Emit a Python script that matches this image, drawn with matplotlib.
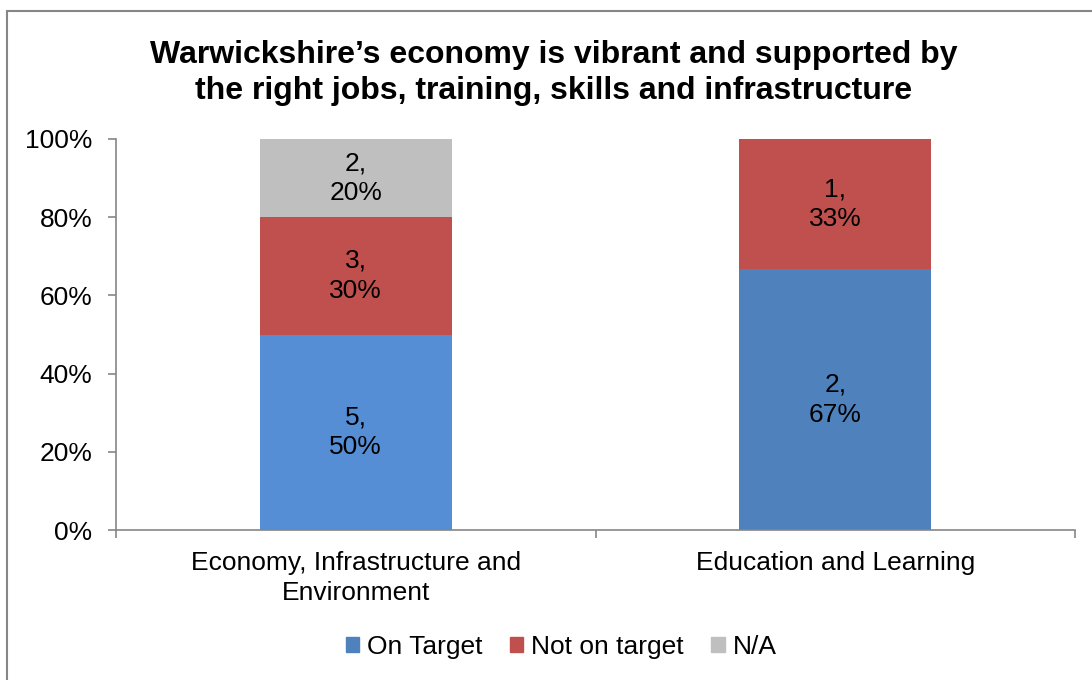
import matplotlib.pyplot as plt
import numpy as np
from matplotlib.patches import Rectangle

plt.rcParams['font.family'] = ['Liberation Sans', 'DejaVu Sans']

# counts per category
categories = ['Economy, Infrastructure and\nEnvironment', 'Education and Learning']
on_target = [5, 2]
not_on_target = [3, 1]
n_a = [2, 0]
series_names = ['On Target', 'Not on target', 'N/A']

counts = np.array([on_target, not_on_target, n_a], dtype=float)
totals = counts.sum(axis=0)
shares = counts / totals

bar_colors = [['#558ED5', '#4F81BD'], ['#C0504D', '#C0504D'], ['#BFBFBF', '#BFBFBF']]
legend_colors = ['#4F81BD', '#C0504D', '#BFBFBF']
axis_grey = '#868686'
fs = 19

fig = plt.figure(figsize=(10.92, 6.80), dpi=100)
ax = fig.add_axes([116/1092, 1-530/680, (1075-116)/1092, (530-139)/680])

x = np.arange(len(categories))
bottom = np.zeros(len(categories))
for i, name in enumerate(series_names):
    ax.bar(x, shares[i], 0.4, bottom=bottom, color=bar_colors[i], label=name)
    for j in range(len(categories)):
        if counts[i, j] > 0:
            ax.text(x[j], bottom[j] + shares[i, j]/2, '%d,\n%d%%' % (counts[i, j], round(shares[i, j]*100)),
                    ha='center', va='center', fontsize=fs, linespacing=1.32)
    bottom += shares[i]

ax.set_xlim(-0.5, 1.5)
ax.set_ylim(0, 1)
ax.set_yticks(np.arange(0, 1.01, 0.2))
ax.set_yticklabels(['%d%%' % v for v in range(0, 101, 20)], fontsize=fs)
ax.set_xticks(x)
ax.set_xticklabels(categories, fontsize=fs, linespacing=1.3)
ax.set_xticks([-0.5, 0.5, 1.5], minor=True)
ax.tick_params(axis='x', which='major', length=0, pad=15)
ax.tick_params(axis='x', which='minor', length=6, color=axis_grey, width=1.2)
ax.tick_params(axis='y', length=6, color=axis_grey, width=1.2, pad=11)
for s in ['top', 'right']:
    ax.spines[s].set_visible(False)
for s in ['left', 'bottom']:
    ax.spines[s].set_color(axis_grey)
    ax.spines[s].set_linewidth(1.2)

fig.text(554/1092, 1-73/680, 'Warwickshire\u2019s economy is vibrant and supported by\nthe right jobs, training, skills and infrastructure',
         ha='center', va='center', fontsize=23, fontweight='bold', linespacing=1.28)

handles = [Rectangle((0, 0), 1, 1, color=c) for c in legend_colors]
fig.legend(handles, series_names, loc='center', bbox_to_anchor=(561/1092, 1-647/680), ncol=3,
           frameon=False, fontsize=fs, handlelength=0.5, handleheight=0.5, handletextpad=0.3,
           columnspacing=1.05)

# chart-area border
fig.patches.append(Rectangle((7/1092, -0.05), 1.1, 1-11/680+0.05, transform=fig.transFigure,
                             fill=False, edgecolor=axis_grey, linewidth=1.5))

fig.savefig('out.png', dpi=100)
